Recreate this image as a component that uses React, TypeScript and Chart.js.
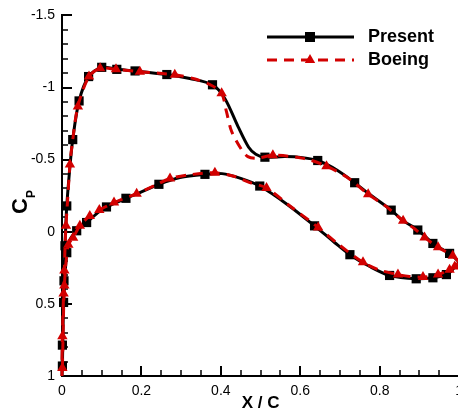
import { useEffect, useRef } from 'react';
import { Chart, registerables } from 'chart.js';

Chart.register(...registerables);

// ---------- data (x/c, Cp) ----------
// Present: upper surface from TE to LE, then lower surface from LE to TE
const presentX = [
  1.0, 0.989, 0.976, 0.953, 0.934, 0.896, 0.858, 0.829, 0.770, 0.737,
  0.692, 0.644, 0.606, 0.561, 0.511, 0.488, 0.470, 0.443, 0.410, 0.379,
  0.322, 0.264, 0.184, 0.138, 0.100, 0.067, 0.043, 0.027, 0.019, 0.012,
  0.0075, 0.005, 0.0025, 0.001, 0,
  0.001, 0.0025, 0.004, 0.0075, 0.012, 0.020, 0.037, 0.062, 0.093, 0.112,
  0.161, 0.196, 0.244, 0.297, 0.360, 0.403, 0.448, 0.498, 0.569, 0.636,
  0.687, 0.725, 0.775, 0.825, 0.892, 0.934, 0.968, 0.986, 1.0,
];
const presentCp = [
  0.21, 0.18, 0.15, 0.114, 0.081, -0.012, -0.079, -0.15, -0.269, -0.34,
  -0.428, -0.494, -0.514, -0.521, -0.517, -0.538, -0.586, -0.731, -0.924, -1.019,
  -1.062, -1.09, -1.115, -1.126, -1.14, -1.076, -0.907, -0.639, -0.421, -0.179,
  0.097, 0.34, 0.545, 0.786, 1.0,
  0.931, 0.683, 0.49, 0.303, 0.145, 0.055, -0.007, -0.064, -0.138, -0.172,
  -0.232, -0.272, -0.329, -0.376, -0.398, -0.403, -0.372, -0.317, -0.186, -0.041,
  0.076, 0.159, 0.241, 0.303, 0.326, 0.319, 0.297, 0.255, 0.21,
];
// 1 = a measured point shown with a marker
const presentMarked = [
  0, 0, 1, 0, 1, 1, 0, 1, 0, 1,
  0, 1, 0, 0, 1, 0, 0, 0, 0, 1,
  0, 1, 1, 1, 1, 1, 1, 1, 0, 1,
  1, 1, 0, 1, 0,
  1, 0, 1, 0, 1, 0, 1, 1, 0, 1,
  1, 0, 1, 0, 1, 0, 0, 1, 0, 1,
  0, 1, 0, 1, 1, 1, 1, 0, 0,
];

const boeingX = [
  1.0, 0.984, 0.947, 0.913, 0.886, 0.859, 0.813, 0.771, 0.719, 0.666,
  0.611, 0.531, 0.493, 0.468, 0.450, 0.427, 0.414, 0.402, 0.377, 0.335,
  0.284, 0.196, 0.136, 0.096, 0.068, 0.040, 0.025, 0.020, 0.014, 0.010,
  0.0075, 0.006, 0.004, 0.001, 0,
  0.001, 0.004, 0.006, 0.010, 0.016, 0.028, 0.045, 0.070, 0.094, 0.131,
  0.188, 0.234, 0.272, 0.327, 0.385, 0.435, 0.473, 0.515, 0.574, 0.645,
  0.699, 0.758, 0.800, 0.846, 0.875, 0.909, 0.947, 0.976, 0.989, 1.0,
];
const boeingCp = [
  0.21, 0.166, 0.108, 0.039, -0.024, -0.076, -0.183, -0.26, -0.376, -0.455,
  -0.507, -0.531, -0.51, -0.521, -0.579, -0.697, -0.834, -0.961, -1.014, -1.059,
  -1.088, -1.11, -1.126, -1.133, -1.076, -0.869, -0.593, -0.467, -0.214, -0.041,
  0.117, 0.269, 0.428, 0.724, 1.0,
  0.945, 0.545, 0.372, 0.214, 0.09, 0.041, -0.041, -0.11, -0.15, -0.202,
  -0.264, -0.321, -0.369, -0.397, -0.409, -0.383, -0.341, -0.303, -0.179, -0.03,
  0.093, 0.212, 0.266, 0.297, 0.31, 0.314, 0.297, 0.264, 0.241, 0.21,
];
const boeingMarked = [
  0, 1, 1, 1, 0, 1, 0, 1, 0, 1,
  0, 1, 0, 0, 0, 0, 0, 1, 0, 0,
  1, 1, 1, 1, 1, 1, 0, 1, 0, 1,
  0, 1, 1, 1, 0,
  1, 0, 1, 0, 1, 1, 1, 1, 1, 1,
  1, 0, 1, 0, 1, 0, 0, 1, 0, 1,
  0, 1, 0, 1, 0, 1, 1, 1, 1, 0,
];

const seriesNames = ['Present', 'Boeing'];
const xTitle = 'X / C';
const yTitleMain = 'C';
const yTitleSub = 'P';

const RED = '#d20000';
const FONT = '"Liberation Sans", Arial, Helvetica, sans-serif';

const fmt = (v: number) => {
  const r = Math.round(v * 10) / 10;
  return Math.abs(r) < 1e-9 ? '0' : String(r);
};

const decorPlugin = {
  id: 'decor',
  beforeDatasetsDraw(chart: any) {
    const { ctx, chartArea, scales } = chart;
    const xs = scales.x;
    const ys = scales.y;
    ctx.save();
    ctx.strokeStyle = '#000';
    // y ticks (inward), minor every 0.1
    for (let i = 0; i <= 25; i++) {
      const v = -1.5 + i * 0.1;
      const major = i % 5 === 0;
      const py = Math.round(ys.getPixelForValue(v));
      ctx.lineWidth = major ? 2 : 1.5;
      ctx.beginPath();
      ctx.moveTo(chartArea.left, py);
      ctx.lineTo(chartArea.left + (major ? 10 : 6), py);
      ctx.stroke();
    }
    // x ticks (inward), minor every 0.05
    for (let i = 0; i <= 20; i++) {
      const v = i * 0.05;
      const major = i % 4 === 0;
      const px = Math.round(xs.getPixelForValue(v));
      ctx.lineWidth = major ? 2 : 1.5;
      ctx.beginPath();
      ctx.moveTo(px, chartArea.bottom);
      ctx.lineTo(px, chartArea.bottom - (major ? 10 : 6));
      ctx.stroke();
    }
    ctx.restore();
  },
  afterDraw(chart: any) {
    const { ctx, chartArea } = chart;
    ctx.save();
    // x title
    ctx.fillStyle = '#000';
    ctx.font = `bold 17px ${FONT}`;
    ctx.textAlign = 'center';
    ctx.textBaseline = 'alphabetic';
    ctx.fillText(xTitle, (chartArea.left + chartArea.right) / 2, 408);
    // y title, rotated
    ctx.save();
    ctx.translate(20, 205);
    ctx.rotate(-Math.PI / 2);
    ctx.textAlign = 'left';
    ctx.font = `bold 22px ${FONT}`;
    ctx.fillText(yTitleMain, -9, 7);
    const cw = ctx.measureText(yTitleMain).width;
    ctx.font = `bold 12px ${FONT}`;
    ctx.fillText(yTitleSub, -9 + cw, 15);
    ctx.restore();

    // legend
    const lx0 = 267, lx1 = 354, mx = 310;
    const rows = [37, 60];
    ctx.lineWidth = 3;
    ctx.strokeStyle = '#000';
    ctx.beginPath();
    ctx.moveTo(lx0, rows[0]);
    ctx.lineTo(lx1, rows[0]);
    ctx.stroke();
    ctx.fillStyle = '#000';
    ctx.fillRect(mx - 5, rows[0] - 5, 10, 10);

    ctx.strokeStyle = RED;
    ctx.setLineDash([10, 7]);
    ctx.beginPath();
    ctx.moveTo(lx0, rows[1]);
    ctx.lineTo(lx1, rows[1]);
    ctx.stroke();
    ctx.setLineDash([]);
    ctx.fillStyle = RED;
    ctx.beginPath();
    ctx.moveTo(mx, rows[1] - 6);
    ctx.lineTo(mx + 5.2, rows[1] + 3);
    ctx.lineTo(mx - 5.2, rows[1] + 3);
    ctx.closePath();
    ctx.fill();

    ctx.fillStyle = '#000';
    ctx.font = `bold 18px ${FONT}`;
    ctx.textAlign = 'left';
    ctx.textBaseline = 'middle';
    ctx.fillText(seriesNames[0], 368, rows[0]);
    ctx.fillText(seriesNames[1], 368, rows[1]);
    ctx.restore();
  },
};

export default function App() {
  const ref = useRef<HTMLCanvasElement>(null);
  useEffect(() => {
    document.body.style.margin = '0';
    const canvas = ref.current;
    if (!canvas) return;
    const presentData = presentX.map((x, i) => ({ x, y: presentCp[i] }));
    const boeingData = boeingX.map((x, i) => ({ x, y: boeingCp[i] }));
    const chart = new Chart(canvas, {
      type: 'scatter',
      data: {
        datasets: [
          {
            label: seriesNames[1],
            data: boeingData,
            showLine: true,
            borderColor: RED,
            borderWidth: 3,
            borderDash: [10, 7],
            tension: 0.3,
            pointStyle: 'triangle',
            pointRadius: (c: any) => (boeingMarked[c.dataIndex] ? 6 : 0),
            pointBackgroundColor: RED,
            pointBorderColor: RED,
            pointBorderWidth: 0,
            clip: false,
          } as any,
          {
            label: seriesNames[0],
            data: presentData,
            showLine: true,
            borderColor: '#000',
            borderWidth: 3,
            tension: 0.3,
            pointStyle: 'rect',
            pointRadius: (c: any) => (presentMarked[c.dataIndex] ? 6.5 : 0),
            pointBackgroundColor: '#000',
            pointBorderColor: '#000',
            pointBorderWidth: 0,
            clip: false,
          } as any,
        ],
      },
      options: {
        responsive: false,
        animation: false,
        events: [],
        layout: { padding: { top: 14, right: 10.5, left: 0, bottom: 0 } },
        plugins: {
          legend: { display: false },
          tooltip: { enabled: false },
        },
        scales: {
          x: {
            type: 'linear',
            min: 0,
            max: 1,
            grid: { display: false, drawTicks: false },
            border: { display: true, color: '#000', width: 2 },
            ticks: {
              stepSize: 0.2,
              padding: 7,
              color: '#000',
              font: { family: FONT, size: 14 },
              callback: (v: any) => fmt(Number(v)),
            },
            afterFit: (s: any) => {
              s.height = 35;
            },
          },
          y: {
            type: 'linear',
            min: -1.5,
            max: 1,
            reverse: true,
            grid: { display: false, drawTicks: false },
            border: { display: true, color: '#000', width: 2 },
            ticks: {
              stepSize: 0.5,
              padding: 7,
              color: '#000',
              font: { family: FONT, size: 14 },
              callback: (v: any) => fmt(Number(v)),
            },
            afterFit: (s: any) => {
              s.width = 62;
            },
          },
        },
      },
      plugins: [decorPlugin],
    });
    return () => chart.destroy();
  }, []);
  return (
    <div style={{ width: 458, height: 411, overflow: 'hidden', position: 'relative', background: '#fff' }}>
      <canvas ref={ref} width={470} height={411} style={{ display: 'block' }} />
    </div>
  );
}
